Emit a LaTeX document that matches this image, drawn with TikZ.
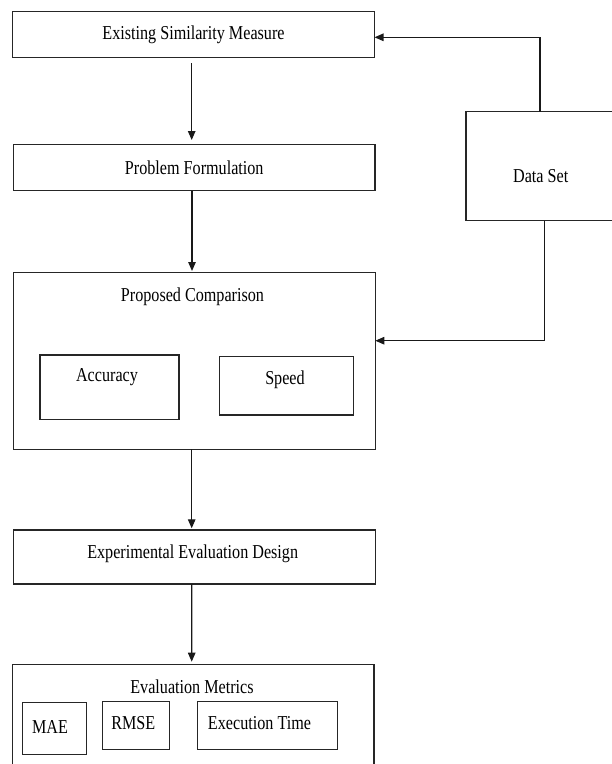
\documentclass[tikz,border=0pt]{standalone}
\usepackage{fontspec}
\setmainfont[FakeStretch=0.82]{Liberation Serif}
\usetikzlibrary{arrows.meta}
\begin{document}
\begin{tikzpicture}[x=1pt,y=-1pt,
  box/.style={draw=black!85, line width=1.3pt, inner sep=0pt, outer sep=0pt},
  txt/.style={font=\fontsize{19.7}{22}\selectfont, inner sep=0pt, text=black},
  arr/.style={draw=black!90, line width=1.2pt, -{Triangle[length=9pt,width=7.5pt]}}]
\useasboundingbox (0,0) rectangle (612,764);
\clip (0,0) rectangle (612,764);
% boxes
\node[box, txt, minimum width=362pt, minimum height=46pt] (es) at (193.5,34.7) {Existing Similarity Measure};
\node[box, txt, minimum width=361.5pt, minimum height=46.4pt] (pf) at (194.25,167.5) {Problem Formulation};
\node[box, minimum width=150pt, minimum height=109pt] (ds) at (541,166.2) {};
\node[txt] (dst) at (540.7,176) {Data Set};
\node[box, minimum width=362pt, minimum height=176.4pt] (pc) at (194.3,361) {};
\node[txt] (pct) at (192.5,296.7) {Proposed Comparison};
\node[box, minimum width=139pt, minimum height=64.7pt] (ac) at (109.5,387.35) {};
\node[txt] (act) at (107,376.7) {Accuracy};
\node[box, minimum width=134pt, minimum height=58.3pt] (sp) at (286.3,385.85) {};
\node[txt] (spt) at (285,379.3) {Speed};
\node[box, minimum width=362.4pt, minimum height=54pt] (ee) at (194.5,557) {};
\node[txt] (eet) at (192.7,553.3) {Experimental Evaluation Design};
\node[box, minimum width=361.3pt, minimum height=115.7pt] (em) at (193.35,722.15) {};
\node[txt] (emt) at (192,686.7) {Evaluation Metrics};
\node[box, minimum width=64pt, minimum height=51.6pt] (mae) at (54.7,728.5) {};
\node[txt] (maet) at (50,726.7) {MAE};
\node[box, minimum width=67pt, minimum height=47.6pt] (rm) at (135.8,725.5) {};
\node[txt] (rmt) at (133.3,723.3) {RMSE};
\node[box, minimum width=140pt, minimum height=47.6pt] (et) at (267.3,725.5) {};
\node[txt] (ett) at (259.5,723.3) {Execution Time};
% connectors
\draw[arr] ([xshift=-1.8pt,yshift=-5.3pt]es.south) -- ([xshift=-2.55pt,yshift=4.3pt]pf.north);
\draw[arr] ([xshift=-2.25pt]pf.south) -- ([xshift=-2.3pt,yshift=1.8pt]pc.north);
\draw[arr] ([xshift=-2.6pt]pc.south) -- ([xshift=-2.8pt,yshift=1.7pt]ee.north);
\draw[arr] ([xshift=-2.8pt]ee.south) -- ([xshift=-1.65pt,yshift=2.6pt]em.north);
\draw[arr] ([xshift=-1pt]ds.north) |- ([yshift=-2.6pt]es.east);
\draw[arr] ([xshift=3.3pt]ds.south) |- ([yshift=20.3pt]pc.east);
\end{tikzpicture}
\end{document}
